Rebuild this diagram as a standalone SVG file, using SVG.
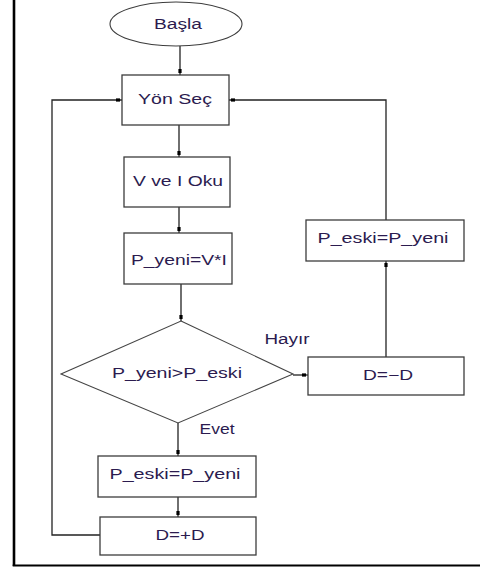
<svg xmlns="http://www.w3.org/2000/svg" width="480" height="569" viewBox="0 0 480 569">
<style>
.box{fill:#fff;stroke:#3c3c3c;stroke-width:1.3}
.ln{fill:none;stroke:#222;stroke-width:1.3;marker-end:url(#dot)}
.ln2{fill:none;stroke:#222;stroke-width:1.3}
text{font-family:"Liberation Sans",Arial,sans-serif;font-size:14px;fill:#2b1b4f;text-anchor:middle}
</style>
<defs>
<marker id="dot" markerUnits="userSpaceOnUse" markerWidth="10" markerHeight="10" viewBox="-8 -4 10 8" refX="0" refY="0" orient="auto">
<rect x="-6" y="-1.6" width="4" height="3.2" fill="#000"/>
</marker>
</defs>
<rect width="480" height="569" fill="#fff"/>
<g id="frame">
<line x1="14" y1="0" x2="14" y2="566" stroke="#000" stroke-width="2.6"/>
<line x1="12.7" y1="565.5" x2="480" y2="565.5" stroke="#000" stroke-width="2.2"/>
</g>
<g id="connectors">
<line class="ln" x1="180" y1="46" x2="180" y2="75"/>
<line class="ln" x1="179" y1="125" x2="179" y2="157"/>
<line class="ln" x1="179" y1="207" x2="179" y2="233"/>
<line class="ln" x1="181" y1="284" x2="181" y2="321"/>
<line class="ln" x1="178" y1="423" x2="178" y2="456"/>
<line class="ln" x1="178" y1="497" x2="178" y2="517"/>
<line class="ln" x1="293" y1="375" x2="308" y2="375"/>
<line class="ln" x1="386" y1="357" x2="386" y2="261"/>
<polyline class="ln" points="386,220 386,100 229,100"/>
<polyline class="ln" points="100,535 52,535 52,100 122,100"/>
</g>
<g id="start">
<ellipse cx="176" cy="24" rx="66" ry="22" fill="#fff" stroke="#3c3c3c" stroke-width="1.1"/>
<text x="178" y="29" textLength="48" lengthAdjust="spacingAndGlyphs">Başla</text>
</g>
<g id="yon-sec">
<rect class="box" x="122" y="75" width="107" height="50"/>
<text x="175" y="104" textLength="74" lengthAdjust="spacingAndGlyphs">Yön Seç</text>
</g>
<g id="oku">
<rect class="box" x="124" y="157" width="106" height="50"/>
<text x="178" y="186" textLength="90" lengthAdjust="spacingAndGlyphs">V ve I Oku</text>
</g>
<g id="p-yeni">
<rect class="box" x="124" y="233" width="108" height="51"/>
<text x="179" y="265" textLength="96" lengthAdjust="spacingAndGlyphs">P_yeni=V*I</text>
</g>
<g id="decision">
<polygon points="181,321 293,374 178,423 61,374" fill="#fff" stroke="#444" stroke-width="1.1"/>
<text x="177" y="378" textLength="130" lengthAdjust="spacingAndGlyphs">P_yeni&gt;P_eski</text>
</g>
<g id="label-hayir"><text x="287" y="344" textLength="45" lengthAdjust="spacingAndGlyphs">Hayır</text></g>
<g id="label-evet"><text x="217" y="434" textLength="35" lengthAdjust="spacingAndGlyphs">Evet</text></g>
<g id="d-minus">
<rect class="box" x="308" y="357" width="156" height="38"/>
<text x="388" y="380" textLength="50" lengthAdjust="spacingAndGlyphs">D=−D</text>
</g>
<g id="p-eski-right">
<rect class="box" x="306" y="220" width="158" height="41"/>
<text x="383" y="243" textLength="131" lengthAdjust="spacingAndGlyphs">P_eski=P_yeni</text>
</g>
<g id="p-eski-bottom">
<rect class="box" x="98" y="456" width="158" height="41"/>
<text x="175" y="479" textLength="131" lengthAdjust="spacingAndGlyphs">P_eski=P_yeni</text>
</g>
<g id="d-plus">
<rect class="box" x="100" y="517" width="156" height="38"/>
<text x="180" y="540" textLength="49" lengthAdjust="spacingAndGlyphs">D=+D</text>
</g>
</svg>
